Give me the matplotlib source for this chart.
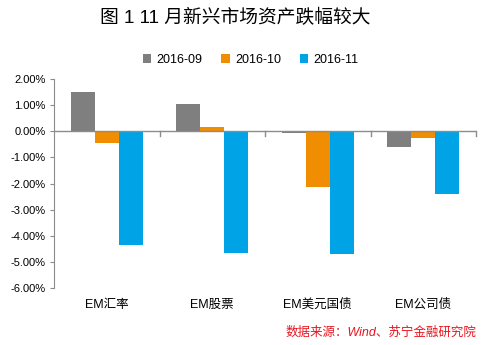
import numpy as np
from matplotlib import pyplot as plt

plt.rcParams['font.family'] = ['Liberation Sans', 'Noto Sans CJK SC']

# 数据
categories = ['EM汇率', 'EM股票', 'EM美元国债', 'EM公司债']
series_names = ['2016-09', '2016-10', '2016-11']
v_2016_09 = [1.52, 1.06, -0.06, -0.59]
v_2016_10 = [-0.44, 0.15, -2.15, -0.25]
v_2016_11 = [-4.35, -4.66, -4.70, -2.42]
yticks = [2, 1, 0, -1, -2, -3, -4, -5, -6]

colors = ['#7f7f7f', '#f18d00', '#00a3e6']
values = [v_2016_09, v_2016_10, v_2016_11]

fig = plt.figure(figsize=(4.82, 3.45), dpi=100)
ax = fig.add_axes([54 / 482, 1 - 288 / 345, (476 - 54) / 482, (288 - 79) / 345])

x = np.arange(len(categories))
w = 0.227
for i, (name, vals, c) in enumerate(zip(series_names, values, colors)):
    ax.bar(x + (i - 1) * w, vals, width=w, color=c, label=name, zorder=2)

ax.set_xlim(-0.5, len(categories) - 0.5)
ax.set_ylim(-6, 2)
ax.set_yticks(yticks)
ax.set_yticklabels([f'{t:.2f}%' for t in yticks], fontsize=8)
ax.tick_params(axis='y', length=3, color='#8c8c8c', pad=3)

# 类别轴在 0 处
ax.axhline(0, color='#8c8c8c', lw=1, zorder=3)
for b in np.arange(0.5, len(categories), 1):
    ax.plot([b, b], [0, -0.2], color='#8c8c8c', lw=1, zorder=3, clip_on=False)
ax.set_xticks([])
for xi, cat in zip(x, categories):
    ax.text(xi, -6.65, cat, ha='center', va='center', fontsize=9)

for s in ['top', 'right', 'bottom']:
    ax.spines[s].set_visible(False)
ax.spines['left'].set_color('#8c8c8c')

fig.text(0.488, 1 - 18 / 345, '图 1 11 月新兴市场资产跌幅较大', ha='center', va='center',
         fontsize=13.5)
fig.legend(loc='center', bbox_to_anchor=(0.52, 1 - 60 / 345), ncol=3, frameon=False,
           fontsize=9, handlelength=0.7, handleheight=0.7, handletextpad=0.4,
           columnspacing=1.5)
fig.text(476 / 482, 1 - 333 / 345, '数据来源：Wind、苏宁金融研究院', ha='right', va='center',
         fontsize=9, color='#e8141e', style='italic')

fig.savefig('out.png', dpi=100)
